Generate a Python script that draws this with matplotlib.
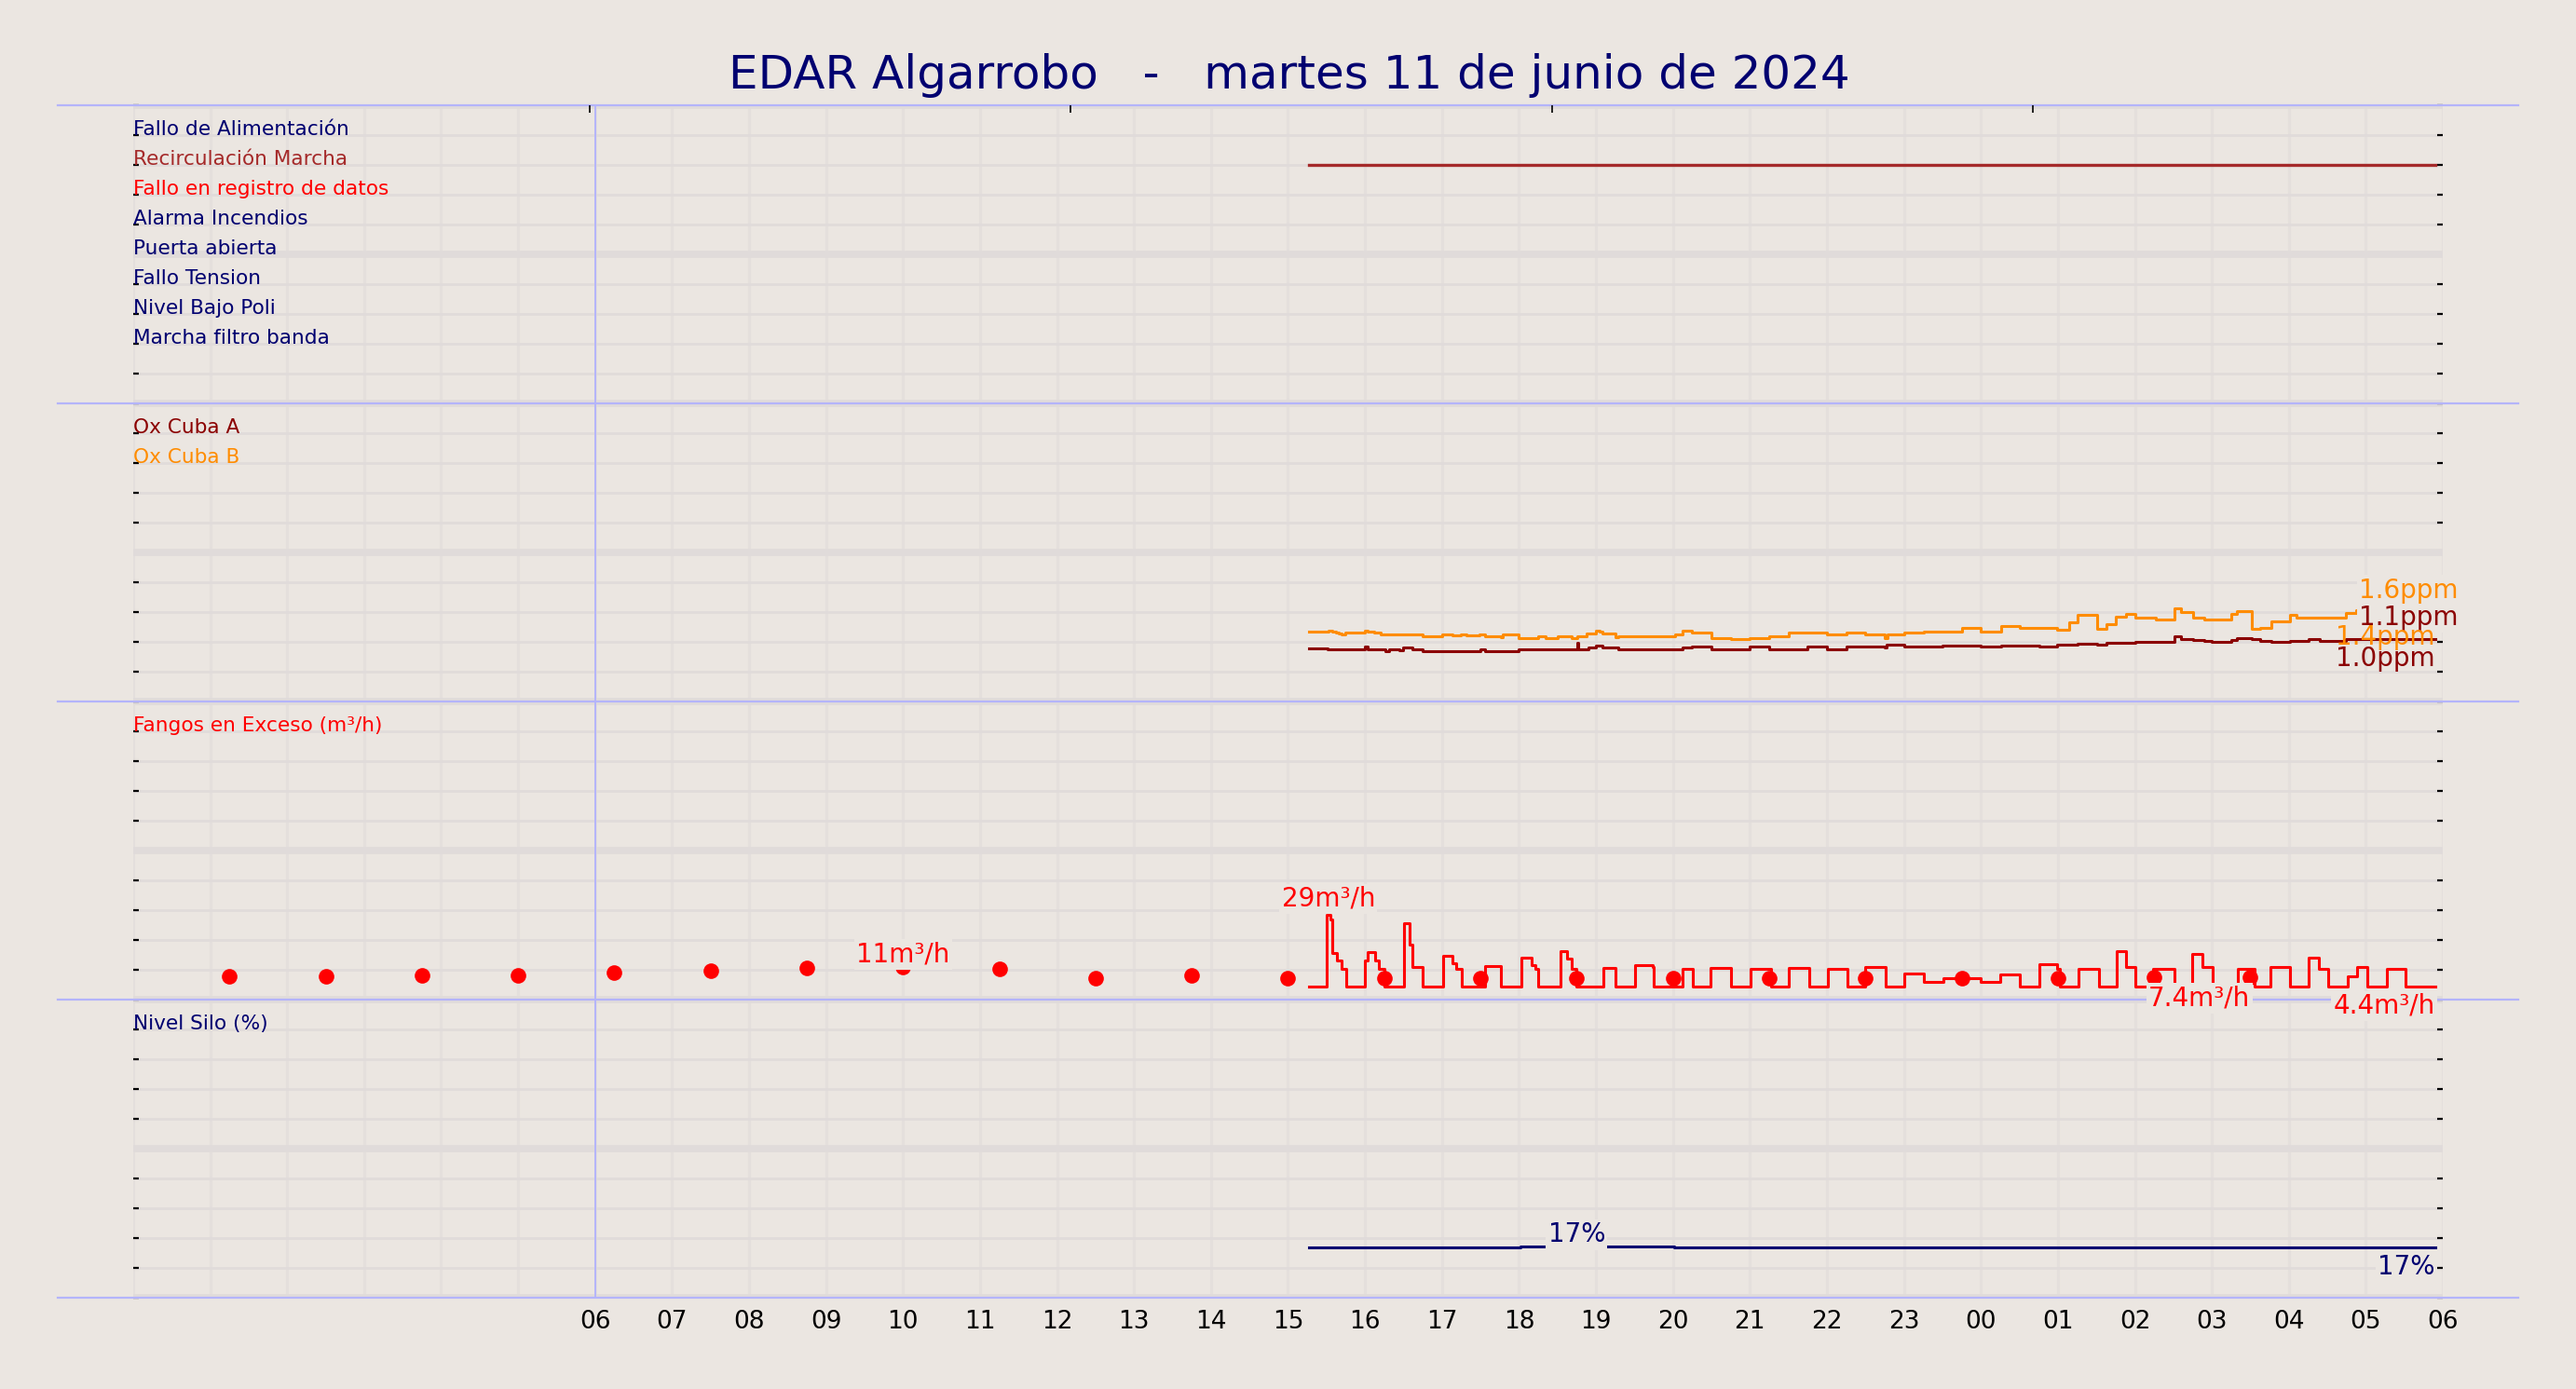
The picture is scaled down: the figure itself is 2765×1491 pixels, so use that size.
import numpy as np
import matplotlib
matplotlib.use('Agg')
import matplotlib.pyplot as plt

BG = '#EBE6E1'
GRID = '#E0DBDA'
VGRID = '#E4DFDC'
BLUE = '#B4B4FA'
NAVY = '#000070'

TITLE = 'EDAR Algarrobo   -   martes 11 de junio de 2024'

# hours counted from 00:00 of the day, axis runs to 06:00 next day
hour_ticks = list(range(0, 31))
hour_labels = ['' if h < 6 else f'{h % 24:02d}' for h in hour_ticks]
top_ticks = [5.93, 12.18, 18.43, 24.68]

# panel 1 : digital signals
sig_labels = ['Fallo de Alimentación', 'Recirculación Marcha', 'Fallo en registro de datos',
              'Alarma Incendios', 'Puerta abierta', 'Fallo Tension', 'Nivel Bajo Poli',
              'Marcha filtro banda']
sig_colors = [NAVY, '#A52A2A', 'red', NAVY, NAVY, NAVY, NAVY, NAVY]
sig_rows = [9, 8, 7, 6, 5, 4, 3, 2]
recirc_t = [15.27, 29.90]

# panel 2 : oxygen (ppm), (hour, value) change points
ox_a = [(15.27, 0.89), (15.51, 0.87), (15.54, 0.88), (15.75, 0.87), (16.00, 0.92), (16.04, 0.88),
        (16.17, 0.87), (16.27, 0.84), (16.31, 0.87), (16.45, 0.86), (16.50, 0.90), (16.62, 0.87),
        (16.75, 0.85), (17.19, 0.84), (17.33, 0.85), (17.36, 0.84), (17.50, 0.87), (17.56, 0.85),
        (18.00, 0.88), (18.25, 0.87), (18.50, 0.88), (18.55, 0.87), (18.62, 0.88), (18.76, 0.98),
        (18.77, 0.88), (18.90, 0.90), (19.00, 0.94), (19.09, 0.90), (19.25, 0.91), (19.29, 0.87),
        (19.50, 0.88), (20.13, 0.90), (20.25, 0.92), (20.50, 0.88), (21.00, 0.92), (21.25, 0.88),
        (21.75, 0.92), (22.00, 0.88), (22.25, 0.92), (22.75, 0.91), (22.78, 0.95), (23.01, 0.93),
        (23.50, 0.94), (24.00, 0.93), (24.26, 0.94), (24.76, 0.93), (24.99, 0.96), (25.25, 0.97),
        (25.51, 0.96), (25.63, 0.98), (26.00, 1.00), (26.51, 1.10), (26.60, 1.05), (26.76, 1.03),
        (26.90, 1.01), (27.00, 1.00), (27.25, 1.03), (27.33, 1.07), (27.52, 1.05), (27.63, 1.02),
        (27.77, 1.00), (28.01, 1.02), (28.26, 1.04), (28.40, 1.02), (28.50, 1.01), (28.74, 1.05),
        (29.00, 1.04), (29.90, 1.04)]
ox_b = [(15.27, 1.18), (15.53, 1.19), (15.57, 1.18), (15.62, 1.16), (15.66, 1.14), (15.70, 1.13),
        (15.74, 1.15), (16.00, 1.19), (16.04, 1.17), (16.12, 1.15), (16.21, 1.13), (16.75, 1.10),
        (17.00, 1.13), (17.13, 1.11), (17.25, 1.13), (17.32, 1.11), (17.49, 1.13), (17.56, 1.10),
        (17.76, 1.08), (17.79, 1.12), (18.00, 1.07), (18.25, 1.09), (18.35, 1.07), (18.50, 1.09),
        (18.68, 1.07), (18.76, 1.09), (18.88, 1.14), (19.00, 1.19), (19.05, 1.18), (19.09, 1.14),
        (19.25, 1.08), (19.29, 1.10), (20.03, 1.12), (20.13, 1.19), (20.25, 1.15), (20.50, 1.07),
        (20.75, 1.05), (21.00, 1.07), (21.25, 1.09), (21.50, 1.15), (22.00, 1.12), (22.25, 1.15),
        (22.50, 1.13), (22.75, 1.07), (22.79, 1.12), (23.01, 1.15), (23.26, 1.18), (23.75, 1.24),
        (24.00, 1.18), (24.26, 1.27), (24.51, 1.24), (24.99, 1.21), (25.15, 1.33), (25.25, 1.45),
        (25.51, 1.22), (25.63, 1.30), (25.75, 1.43), (25.89, 1.47), (26.00, 1.40), (26.27, 1.37),
        (26.51, 1.56), (26.60, 1.50), (26.76, 1.41), (26.90, 1.37), (27.25, 1.47), (27.33, 1.52),
        (27.52, 1.22), (27.63, 1.24), (27.77, 1.34), (28.01, 1.45), (28.10, 1.41), (28.26, 1.40),
        (28.74, 1.48), (28.88, 1.53), (29.00, 1.40), (29.90, 1.40)]

# panel 3 : excess sludge (m3/h)
fangos = [(15.27, 4.4), (15.50, 28.6), (15.55, 27.0), (15.58, 15.5), (15.64, 13.0), (15.70, 10.2),
          (15.76, 4.4), (16.00, 13.2), (16.04, 16.1), (16.13, 13.0), (16.18, 10.2), (16.25, 4.4),
          (16.51, 25.5), (16.58, 18.6), (16.62, 10.9), (16.75, 4.4), (17.01, 14.8), (17.13, 12.3),
          (17.19, 10.2), (17.26, 4.4), (17.56, 11.3), (17.76, 4.4), (18.03, 14.1), (18.16, 11.6),
          (18.21, 10.2), (18.25, 4.4), (18.54, 16.3), (18.62, 13.7), (18.68, 10.2), (18.75, 4.4),
          (19.10, 10.5), (19.25, 4.4), (19.51, 11.6), (19.74, 10.9), (19.75, 4.4), (20.13, 10.2),
          (20.26, 4.4), (20.49, 10.7), (20.76, 4.4), (21.01, 10.2), (21.27, 4.4), (21.51, 10.7),
          (21.77, 4.4), (22.01, 10.2), (22.27, 4.4), (22.50, 11.1), (22.76, 4.4), (23.01, 8.8),
          (23.26, 5.8), (23.51, 7.2), (24.00, 6.1), (24.25, 8.3), (24.51, 4.4), (24.76, 11.9),
          (24.99, 10.2), (25.02, 4.4), (25.27, 10.4), (25.54, 4.4), (25.76, 16.3), (25.89, 10.9),
          (26.00, 4.4), (26.23, 10.4), (26.52, 4.4), (26.75, 15.3), (26.88, 10.9), (27.01, 4.4),
          (27.34, 10.2), (27.56, 4.4), (27.76, 10.9), (28.02, 4.4), (28.26, 14.2), (28.39, 10.4),
          (28.51, 4.4), (28.76, 7.8), (28.89, 10.9), (29.02, 4.4), (29.27, 10.2), (29.51, 4.4),
          (29.90, 4.4)]
dots_t = [1.25, 2.5, 3.75, 5.0, 6.25, 7.5, 8.75, 10.0, 11.25, 12.5, 13.75, 15.0, 16.25, 17.5,
          18.75, 20.0, 21.25, 22.5, 23.75, 25.0, 26.25, 27.5]
dots_v = [7.7, 7.7, 8.1, 8.1, 9.0, 9.6, 10.6, 10.8, 10.3, 7.1, 8.1, 7.2, 7.1, 7.1, 7.1, 7.1,
          7.1, 7.1, 7.1, 7.3, 7.4, 7.4]

# panel 4 : silo level (%)
silo = [(15.27, 16.8), (18.02, 17.1), (18.60, 17.4), (18.90, 17.1), (20.02, 16.8), (29.90, 16.8)]


def fmt_m3(v):
    return f'{v:.0f}m³/h' if v >= 10 else f'{v:.1f}m³/h'


BOX = dict(boxstyle='square,pad=0.08', facecolor=BG, edgecolor='none')


def tag(ax, x, y, s, color, ha, va, dx=0, dy=0, box=True):
    ax.annotate(s, (x, y), xytext=(dx, dy), textcoords='offset points', ha=ha, va=va,
                fontsize=10, color=color, bbox=BOX if box else None, zorder=3,
                annotation_clip=False)


def max_step(series):
    t, v = zip(*series)
    i = int(np.argmax(v[:-1]))
    return (t[i] + t[i + 1]) / 2, v[i]


fig = plt.figure(figsize=(13.825, 7.455), dpi=200, facecolor=BG)
fig.text(0.5006, 0.9457, TITLE, ha='center', va='center', fontsize=18, color=NAVY)

L, W = 0.0517, 0.8966
TOP, BOT = 0.9242, 0.0657
H = (TOP - BOT) / 4
limits = [(10, 5), (5, 2.5), (100, 50), (100, 50)]
axes = []
for i, (ymax, mid) in enumerate(limits):
    ax = fig.add_axes([L, TOP - (i + 1) * H, W, H])
    ax.set_facecolor('none')
    ax.set_zorder(10 - i)   # upper panels' labels may spill over the next one
    ax.set_xlim(0, 30)
    ax.set_ylim(0, ymax)
    ax.set_xticks(hour_ticks)
    ax.set_xticklabels(hour_labels)
    ax.set_yticks(np.linspace(0, ymax, 11))
    ax.set_axisbelow(True)
    ax.grid(axis='x', color=VGRID, lw=1.1)
    ax.grid(axis='y', color=GRID, lw=1.0)
    for yy in (0, mid, ymax):
        ax.axhline(yy, color=GRID, lw=2.8, zorder=0.6)
    for s in ax.spines.values():
        s.set_visible(False)
    ax.tick_params(axis='y', direction='in', length=2, width=0.8, left=True, right=True,
                   labelleft=False, colors='black')
    ax.tick_params(axis='x', length=0, labelbottom=(i == 3), labelsize=9.5, pad=4.5)
    ax.axvline(6, color=BLUE, lw=0.7, zorder=2.5)
    ax.plot([-0.0327, 1.0327], [0, 0], transform=ax.transAxes, clip_on=False,
            color=BLUE, lw=0.8, zorder=2.5)
    axes.append(ax)

ax1, ax2, ax3, ax4 = axes
ax1.plot([-0.0327, 1.0327], [1, 1], transform=ax1.transAxes, clip_on=False,
         color=BLUE, lw=0.8, zorder=2.5)
axt = ax1.twiny()
axt.set_zorder(11)
axt.set_xlim(0, 30)
axt.set_xticks(top_ticks)
axt.tick_params(axis='x', direction='in', length=3, width=0.6, labeltop=False)
for s in axt.spines.values():
    s.set_visible(False)

# panel 1
for lab, col, row in zip(sig_labels, sig_colors, sig_rows):
    ax1.text(0, row, lab, color=col, fontsize=7.8, ha='left', va='baseline')
ax1.plot(recirc_t, [sig_rows[1]] * len(recirc_t), color='#A52A2A', lw=1.2, zorder=2)

# panel 2
ax2.text(0, 9 * 0.5, 'Ox Cuba A', color='#8B0000', fontsize=7.8, ha='left', va='baseline')
ax2.text(0, 8 * 0.5, 'Ox Cuba B', color='#FF8C00', fontsize=7.8, ha='left', va='baseline')
ta, va_ = zip(*ox_a)
tb, vb = zip(*ox_b)
ax2.step(tb, vb, where='post', color='#FF8C00', lw=1.1, zorder=2)
ax2.step(ta, va_, where='post', color='#8B0000', lw=1.1, zorder=2)
tag(ax2, ta[-1], max(va_), f'{max(va_):.1f}ppm', '#8B0000', 'right', 'bottom', 9, 2)
tag(ax2, tb[-1], max(vb), f'{max(vb):.1f}ppm', '#FF8C00', 'right', 'bottom', 9, 2)
tag(ax2, tb[-1], vb[-1], f'{vb[-1]:.1f}ppm', '#FF8C00', 'right', 'top', 0, -2.5, box=False)
tag(ax2, ta[-1], va_[-1], f'{va_[-1]:.1f}ppm', '#8B0000', 'right', 'top', 0, -2.5, box=False)

# panel 3
ax3.text(0, 90, 'Fangos en Exceso (m³/h)', color='red', fontsize=7.8, ha='left', va='baseline')
tf, vf = zip(*fangos)
ax3.step(tf, vf, where='post', color='red', lw=1.1, zorder=2)
ax3.plot(dots_t, dots_v, 'o', color='red', ms=6, mec='none', zorder=2)
xm, ym = max_step(fangos)
tag(ax3, xm, ym, fmt_m3(ym), 'red', 'center', 'bottom', 0, 1)
im = int(np.argmax(dots_v))
tag(ax3, dots_t[im], dots_v[im], fmt_m3(dots_v[im]), 'red', 'center', 'bottom', 0, 0)
tag(ax3, dots_t[-1], dots_v[-1], fmt_m3(dots_v[-1]), 'red', 'right', 'top', 0, -3)
tag(ax3, tf[-1], vf[-1], fmt_m3(vf[-1]), 'red', 'right', 'top', 0, -2.5)

# panel 4
ax4.text(0, 90, 'Nivel Silo (%)', color=NAVY, fontsize=7.8, ha='left', va='baseline')
ts, vs = zip(*silo)
ax4.step(ts, vs, where='post', color=NAVY, lw=1.1, zorder=2)
xm, ym = max_step(silo)
tag(ax4, xm, ym, f'{ym:.0f}%', NAVY, 'center', 'bottom', 0, -0.7)
tag(ax4, ts[-1], vs[-1], f'{vs[-1]:.0f}%', NAVY, 'right', 'top', 0, -2.5)

fig.savefig('out.png', dpi=200, facecolor=BG)
